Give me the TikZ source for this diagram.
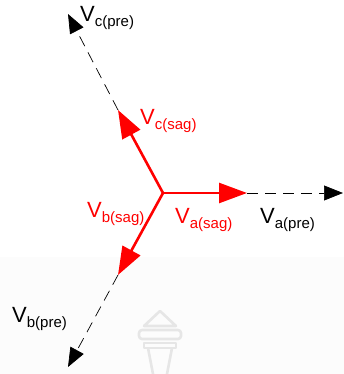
\documentclass[tikz,border=0pt]{standalone}
\usepackage{fontspec}
\setmainfont{Liberation Sans}
\usetikzlibrary{arrows.meta}
\definecolor{wm}{HTML}{E6E6E6}
\definecolor{bgl}{HTML}{FCFCFC}
\newcommand{\vlab}[1]{V\raisebox{-5pt}{\fontsize{15}{15}\selectfont #1}}
\tikzset{
  sag/.style={draw=red, line width=2.6pt, -{Triangle[length=28pt,width=20pt]}},
  pre/.style={draw=black, line width=0.7pt, dash pattern=on 11pt off 7pt, -{Triangle[length=19pt,width=15pt]}},
  lab/.style={anchor=base west, inner sep=0pt, font=\fontsize{22}{22}\selectfont},
}
\begin{document}
\begin{tikzpicture}[x=1pt,y=-1pt]
\useasboundingbox (0,0) rectangle (344,374);
\fill[white] (0,0) rectangle (344,374);
\fill[bgl] (0,257) rectangle (344,374);
% watermark
\begin{scope}[draw=wm, line width=2.6pt, line join=round]
\draw (160,311) -- (144,326) -- (176,326) -- cycle;
\draw[rounded corners=3pt] (139,330) rectangle (181,339);
\draw (144,343) rectangle (176,348);
\draw (148,348) -- (153,374);
\draw (172,348) -- (167,374);
\end{scope}
% points
\coordinate (O) at (163,193);
\coordinate (Asag) at (247,193);
\coordinate (Apre) at (343,193);
\coordinate (Csag) at (118,110);
\coordinate (Cpre) at (68,14);
\coordinate (Bsag) at (118,275);
\coordinate (Bpre) at (68,367);
% dashed pre-sag
\draw[pre] (Asag) -- (Apre);
\draw[pre] (Csag) -- (Cpre);
\draw[pre] (Bsag) -- (Bpre);
% red sag
\draw[sag] (O) -- (Asag);
\draw[sag] (O) -- (Csag);
\draw[sag] (O) -- (Bsag);
% labels
\node[lab] (lcpre) at (80,22) {\vlab{c(pre)}};
\node[lab, text=red] (lcsag) at (140,125) {\vlab{c(sag)}};
\node[lab, text=red] (lasag) at (175,223) {\vlab{a(sag)}};
\node[lab] (lapre) at (260,223) {\vlab{a(pre)}};
\node[lab, text=red] (lbsag) at (87,217) {\vlab{b(sag)}};
\node[lab] (lbpre) at (12,322) {\vlab{b(pre)}};
\end{tikzpicture}
\end{document}
